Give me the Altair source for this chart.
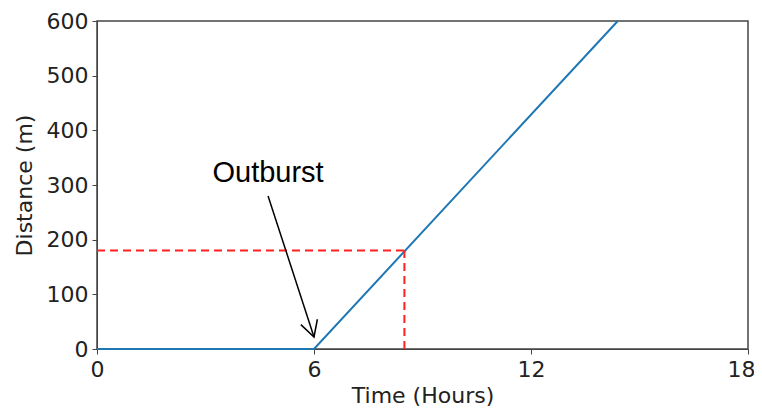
import altair as alt
import pandas as pd

# Main series (Time in hours, Distance in m)
time_h = [0, 6, 14.4]
distance_m = [0, 0, 600]

# Dashed guide lines
guide_x = [8.5]
guide_y = [180]

# Annotation
ann_text = ["Outburst"]
ann_text_x = [4.73]
ann_text_y = [322]
arrow_start_x = [4.73]
arrow_start_y = [280]
arrow_tip_x = [6.0]
arrow_tip_y = [22]

x_ticks = [0, 6, 12, 18]
y_ticks = [0, 100, 200, 300, 400, 500, 600]

df_line = pd.DataFrame({"t": time_h, "d": distance_m})
df_h = pd.DataFrame({"x": [0], "x2": guide_x, "y": guide_y})
df_v = pd.DataFrame({"x": guide_x, "y": [0], "y2": guide_y})
df_arrow = pd.DataFrame({"x": arrow_start_x, "y": arrow_start_y,
                         "x2": arrow_tip_x, "y2": arrow_tip_y})
df_tip = pd.DataFrame({"x": arrow_tip_x, "y": arrow_tip_y})
df_text = pd.DataFrame({"x": ann_text_x, "y": ann_text_y, "t": ann_text})

xscale = alt.Scale(domain=[0, 18], nice=False, zero=False)
yscale = alt.Scale(domain=[0, 600], nice=False)

xaxis = alt.Axis(values=x_ticks, title="Time (Hours)", grid=False,
                 labelFontSize=22, titleFontSize=22, labelFont="DejaVu Sans",
                 titleFont="DejaVu Sans", titleFontWeight="normal",
                 labelColor="#222", titleColor="#222", tickColor="#444",
                 domainColor="#444", tickSize=5, labelPadding=5, titlePadding=5,
                 labelFlush=False,
                 labelOffset={"expr": "datum.value == 18 ? -7 : 0"})
yaxis = alt.Axis(values=y_ticks, title="Distance (m)", grid=False,
                 labelFontSize=22, titleFontSize=22, labelFont="DejaVu Sans",
                 titleFont="DejaVu Sans", titleFontWeight="normal",
                 labelColor="#222", titleColor="#222", tickColor="#444",
                 domainColor="#444", tickSize=5, labelPadding=4, titlePadding=10,
                 labelFlush=False)

line = alt.Chart(df_line).mark_line(color="#1f77b4", strokeWidth=2).encode(
    x=alt.X("t:Q", scale=xscale, axis=xaxis),
    y=alt.Y("d:Q", scale=yscale, axis=yaxis),
)

hdash = alt.Chart(df_h).mark_rule(color="#ff2020", strokeWidth=2, strokeDash=[8, 5]).encode(
    x="x:Q", x2="x2:Q", y="y:Q")
vdash = alt.Chart(df_v).mark_rule(color="#ff2020", strokeWidth=2, strokeDash=[8, 5]).encode(
    x="x:Q", y="y:Q", y2="y2:Q")

shaft = alt.Chart(df_arrow).mark_rule(color="black", strokeWidth=1.5).encode(
    x="x:Q", y="y:Q", x2="x2:Q", y2="y2:Q")

tip = alt.Chart(df_tip).mark_point(
    shape="M -0.55,-1 L 0,0 L 0.55,-1", filled=False, stroke="black",
    strokeWidth=1.5, size=1000, angle=342, opacity=1).encode(x="x:Q", y="y:Q")

text = alt.Chart(df_text).mark_text(font="Liberation Sans", fontSize=29,
                                    color="black", align="center",
                                    baseline="middle").encode(
    x="x:Q", y="y:Q", text="t:N")

chart = alt.layer(line, hdash, vdash, shaft, tip, text).properties(
    width=651, height=328,
    padding={"left": 89, "top": 13, "right": 6, "bottom": 61},
    autosize=alt.AutoSizeParams(type="none"),
).configure_view(stroke="#444", strokeWidth=1.5)

chart.save("out.html", embed_options={"renderer": "svg", "actions": False})
